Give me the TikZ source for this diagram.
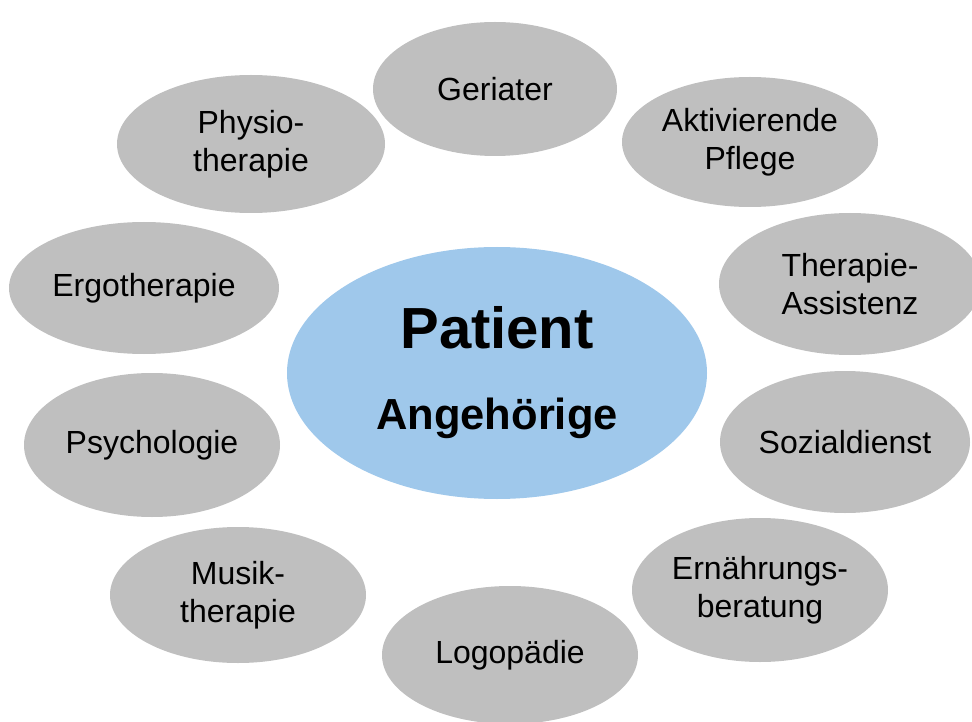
\documentclass[tikz,border=0pt]{standalone}
\usepackage{fontspec}
\setmainfont{Liberation Sans}
\usetikzlibrary{shapes.geometric}
\definecolor{blobgray}{HTML}{BFBFBF}
\definecolor{patblue}{HTML}{9FC8EB}

\begin{document}
\begin{tikzpicture}[x=1pt,y=1pt]
	\tikzstyle{every node}+=[inner sep=0pt]
	\tikzstyle{blob}=[ellipse, fill=blobgray, align=center, font=\fontsize{32}{38}\selectfont]
	\useasboundingbox (0,0) rectangle (972,-722);
	\clip (0,0) rectangle (972,-722);
	\node (geriater) [blob, minimum width=244, minimum height=134] at (495,-89) {Geriater};
	\node (pflege) [blob, minimum width=256, minimum height=130] at (750,-142) {Aktivierende\\Pflege};
	\node (physio) [blob, minimum width=268, minimum height=138] at (251,-144) {Physio-\\therapie};
	\node (ergo) [blob, minimum width=270, minimum height=132] at (144,-288) {Ergotherapie};
	\node (assist) [blob, minimum width=262, minimum height=142] at (850,-284) {Therapie-\\Assistenz};
	\node (psycho) [blob, minimum width=256, minimum height=144] at (152,-445) {Psychologie};
	\node (sozial) [blob, minimum width=250, minimum height=142] at (845,-442) {Sozialdienst};
	\node (musik) [blob, minimum width=256, minimum height=136] at (238,-595) {Musik-\\therapie};
	\node (ernaehr) [blob, minimum width=256, minimum height=144] at (760,-590) {Ernährungs-\\beratung};
	\node (logo) [blob, minimum width=256, minimum height=138] at (510,-655) {Logopädie};
	\node (patient) [ellipse, fill=patblue, minimum width=420, minimum height=252, align=center,
		font=\fontsize{43.5}{81}\selectfont\bfseries] at (497,-373)
		{{\fontsize{58}{81}\selectfont Patient}\\Angehörige};
\end{tikzpicture}
\end{document}
